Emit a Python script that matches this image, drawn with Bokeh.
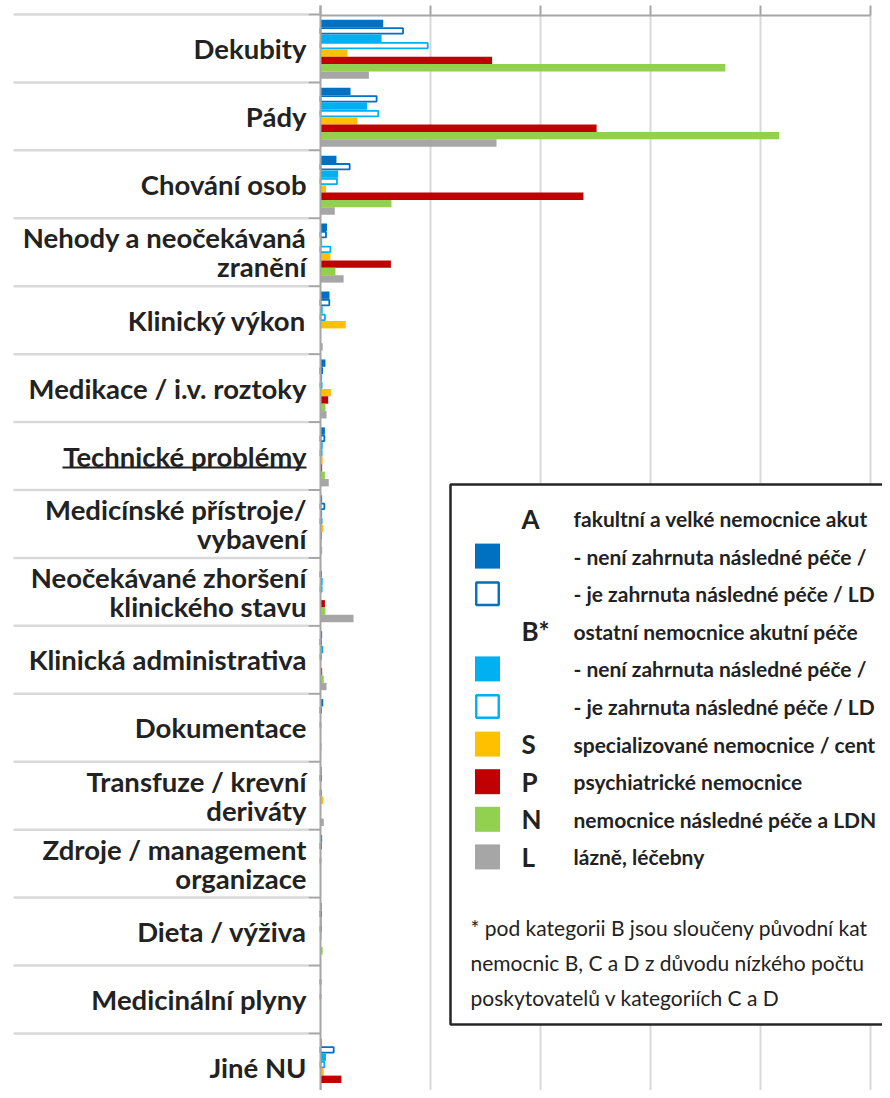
from bokeh.plotting import figure
from bokeh.models import Range1d
from bokeh.core.properties import value
from bokeh.embed import file_html
from bokeh.resources import INLINE

# ---------------- data ----------------
categories = [
    "Dekubity",
    "Pády",
    "Chování osob",
    "Nehody a neočekávaná\nzranění",
    "Klinický výkon",
    "Medikace / i.v. roztoky",
    "Technické problémy",
    "Medicínské přístroje/\nvybavení",
    "Neočekávané zhoršení\nklinického stavu",
    "Klinická administrativa",
    "Dokumentace",
    "Transfuze / krevní\nderiváty",
    "Zdroje / management\norganizace",
    "Dieta / výživa",
    "Medicinální plyny",
    "Jiné NU",
]

a_ne = [5.7, 2.73, 1.45, 0.6, 0.82, 0.45, 0.4, 0.15, 0.05, 0.15, 0.25, 0.1, 0.15, 0.1, 0.0, 0.1]
a_je = [7.5, 5.1, 2.65, 0.5, 0.8, 0.15, 0.35, 0.35, 0.05, 0.05, 0.05, 0.05, 0.05, 0.05, 0.0, 1.2]
b_ne = [5.55, 4.25, 1.6, 0.15, 0.2, 0.15, 0.2, 0.15, 0.2, 0.25, 0.05, 0.05, 0.05, 0.1, 0.0, 0.5]
b_je = [9.75, 5.25, 1.5, 0.9, 0.4, 0.1, 0.1, 0.1, 0.1, 0.05, 0.0, 0.05, 0.0, 0.05, 0.0, 0.35]
s_vals = [2.45, 3.35, 0.5, 0.9, 2.3, 0.95, 0.2, 0.25, 0.05, 0.05, 0.05, 0.25, 0.05, 0.1, 0.05, 0.3]
p_vals = [15.6, 25.1, 23.9, 6.4, 0.0, 0.7, 0.15, 0.1, 0.4, 0.15, 0.0, 0.0, 0.0, 0.0, 0.0, 1.9]
n_vals = [36.8, 41.7, 6.45, 1.36, 0.0, 0.45, 0.4, 0.1, 0.45, 0.3, 0.1, 0.0, 0.0, 0.2, 0.0, 0.1]
l_vals = [4.4, 16.0, 1.3, 2.1, 0.2, 0.55, 0.75, 0.15, 3.0, 0.55, 0.0, 0.3, 0.0, 0.0, 0.0, 0.6]

grid_ticks = [0, 10, 20, 30, 40, 50]

legend_letters = ["A", "", "", "B*", "", "", "S", "P", "N", "L"]
# texts as far as they are visible in the (cropped) reference
legend_texts = [
    "fakultní a velké nemocnice akut",
    "- není zahrnuta následné péče /",
    "- je zahrnuta následné péče / LD",
    "ostatní nemocnice akutní péče",
    "- není zahrnuta následné péče /",
    "- je zahrnuta následné péče / LD",
    "specializované nemocnice / cent",
    "psychiatrické nemocnice",
    "nemocnice následné péče a LDN",
    "lázně, léčebny",
]
footnote = [
    "* pod kategorii B jsou sloučeny původní kat",
    "nemocnic B, C a D z důvodu nízkého počtu",
    "poskytovatelů v kategoriích C a D",
]

# ---------------- styles / layout ----------------
C_A = "#0070c0"
C_B = "#00b0f0"
C_S = "#ffc000"
C_P = "#c00000"
C_N = "#92d050"
C_L = "#a6a6a6"
series = [
    (a_ne, C_A, False),
    (a_je, C_A, True),
    (b_ne, C_B, False),
    (b_je, C_B, True),
    (s_vals, C_S, False),
    (p_vals, C_P, False),
    (n_vals, C_N, False),
    (l_vals, C_L, False),
]
legend_swatch = [None, (C_A, False), (C_A, True), None, (C_B, False), (C_B, True),
                 (C_S, False), (C_P, False), (C_N, False), (C_L, False)]

W, H = 882, 1090
X0 = 320.0     # pixel x of value 0
PXU = 11.0     # pixels per value unit
TOP = 14.0     # pixel y of first band top
BAND = 67.93   # band height in px


def X(px):
    return (px - X0) / PXU


def Y(py):
    return (py - TOP) / BAND


FONT = value("Lato")
TXT = "#222222"

p = figure(width=W, height=H,
           x_range=Range1d(X(0), X(W)), y_range=Range1d(Y(H), Y(0)),
           output_backend="svg", toolbar_location=None, min_border=0,
           x_axis_location=None, y_axis_location=None)
p.grid.visible = False
p.outline_line_color = None
p.background_fill_color = "white"
p.border_fill_color = "white"

# gridlines
gx = [t for t in grid_ticks if t > 0]
p.segment(x0=gx, y0=[Y(15)] * len(gx), x1=gx, y1=[Y(1100)] * len(gx),
          line_color="#d9d9d9", line_width=2)
# top axis ticks and line
p.segment(x0=grid_ticks, y0=[Y(5)] * len(grid_ticks), x1=grid_ticks, y1=[Y(15)] * len(grid_ticks),
          line_color="#a6a6a6", line_width=2)
p.segment(x0=[grid_ticks[0]], y0=[Y(15)], x1=[grid_ticks[-1]], y1=[Y(15)],
          line_color="#a6a6a6", line_width=2)

# legend box (white, covers gridlines)
p.quad(left=[X(450)], right=[X(1000)], top=[Y(484)], bottom=[Y(1024)],
       fill_color="white", line_color="#262626", line_width=2.5)

# bars
n = len(categories)
slot = 7.375
for k, (vals, color, outline) in enumerate(series):
    ys = [i + (5.3 + (k + 0.5) * slot) / BAND for i in range(n)]
    if outline:
        p.hbar(y=ys, left=0, right=vals, height=(slot - 1.9) / BAND,
               fill_color="white", line_color=color, line_width=1.8)
    else:
        p.hbar(y=ys, left=0, right=vals, height=slot / BAND,
               fill_color=color, line_color=None)

# category separators
seps = list(range(n + 1))
p.segment(x0=[X(13)] * len(seps), y0=seps, x1=[X(308)] * len(seps), y1=seps,
          line_color="#d9d9d9", line_width=2.5)
p.segment(x0=[X(308)] * len(seps), y0=seps, x1=[0] * len(seps), y1=seps,
          line_color="#a6a6a6", line_width=2)
# vertical axis line
p.segment(x0=[0], y0=[Y(5)], x1=[0], y1=[Y(1100)], line_color="#a6a6a6", line_width=2)

# category labels
lx, ly, lt = [], [], []
for i, c in enumerate(categories):
    lines = c.split("\n")
    center = i + 0.5
    if len(lines) == 1:
        lx.append(X(306)); ly.append(center); lt.append(lines[0])
    else:
        lx += [X(306), X(306)]
        ly += [center - 14.5 / BAND, center + 14.5 / BAND]
        lt += lines
p.text(x=lx, y=ly, text=lt, text_font=FONT, text_font_style="bold",
       text_font_size="27.5px", text_align="right", text_baseline="middle", text_color=TXT)
# underline of "Technické problémy"
iu = categories.index("Technické problémy")
uy = iu + (467.5 - 422) / BAND
p.segment(x0=[X(62)], y0=[uy], x1=[X(306)], y1=[uy], line_color=TXT, line_width=2)

# legend content
row0, dy = 518.0, 37.6
rows = [row0 + j * dy for j in range(len(legend_texts))]
for j, sw in enumerate(legend_swatch):
    if sw is None:
        continue
    col, outl = sw
    if outl:
        p.rect(x=[X(487)], y=[Y(rows[j])], width=22.5, height=22.5, width_units="screen",
               height_units="screen", fill_color="white", line_color=col, line_width=2.4)
    else:
        p.rect(x=[X(487)], y=[Y(rows[j])], width=25, height=25, width_units="screen",
               height_units="screen", fill_color=col, line_color=None)
p.text(x=[X(521)] * len(rows), y=[Y(r) for r in rows], text=legend_letters, text_font=FONT,
       text_font_style="bold", text_font_size="26px", text_align="left",
       text_baseline="middle", text_color=TXT)
p.text(x=[X(573)] * len(rows), y=[Y(r) for r in rows], text=legend_texts, text_font=FONT,
       text_font_style="bold", text_font_size="21px", text_align="left",
       text_baseline="middle", text_color=TXT)
fy = [927, 962, 997]
p.text(x=[X(470)] * 3, y=[Y(v) for v in fy], text=footnote, text_font=FONT,
       text_font_size="21px", text_align="left", text_baseline="middle", text_color=TXT)

open("out.html", "w").write(file_html(p, INLINE))
